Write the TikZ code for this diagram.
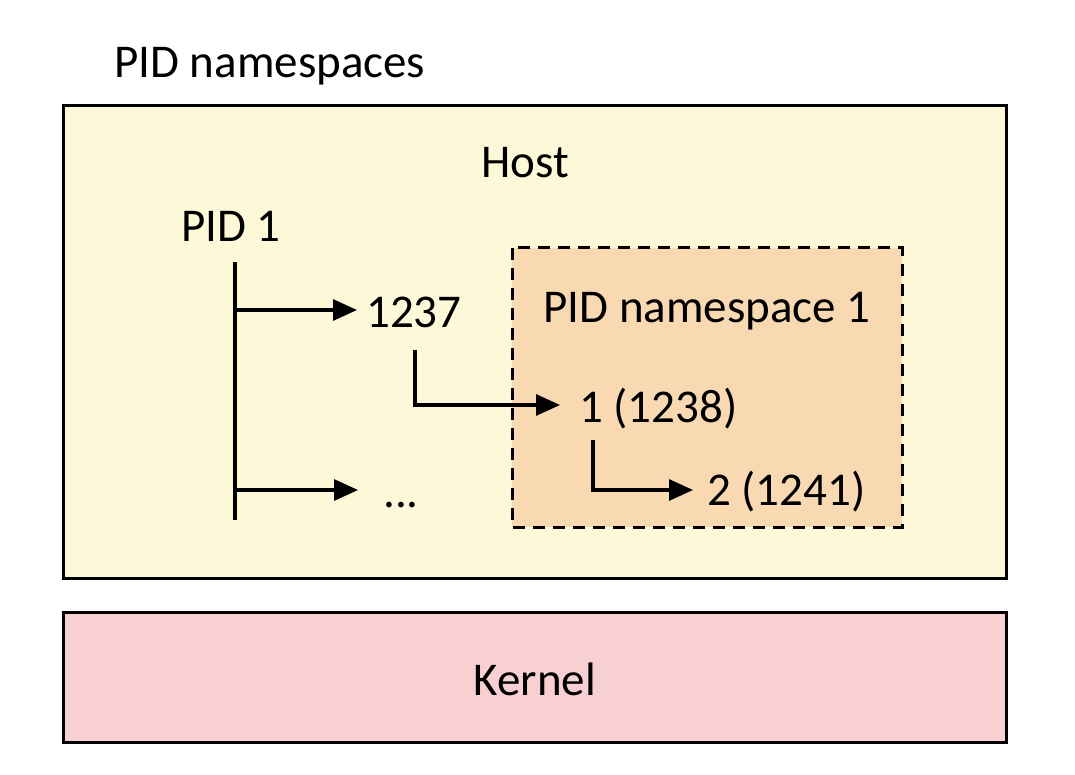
\documentclass[tikz,border=0pt]{standalone}
\usepackage{fontspec}
\setmainfont{Carlito}
\usetikzlibrary{arrows.meta}
\definecolor{hostfill}{HTML}{FCF8D8}
\definecolor{nsfill}{HTML}{F8D9B2}
\definecolor{kernfill}{HTML}{F9D0D2}
\begin{document}
\begin{tikzpicture}[x=1pt,y=-1pt,
  lbl/.style={font=\fontsize{47}{56}\selectfont, inner sep=0pt, text height=30pt, text depth=0pt},
  box/.style={draw=black, line width=3pt},
  conn/.style={line width=3.2pt, -{Triangle[length=24pt,width=21pt]}},
  plain/.style={line width=3.2pt}]
\useasboundingbox (0,0) rectangle (1075,775);
\fill[white] (0,0) rectangle (1075,775);
% boxes
\draw[box, fill=hostfill] (63,106) rectangle (1006,578);
\draw[box, fill=kernfill] (63,612) rectangle (1006,742);
\draw[box, fill=nsfill, dash pattern=on 12pt off 8pt] (512,248) rectangle (902,527);
% labels
\node[lbl, anchor=west] (title) at (114,63) {PID namespaces};
\node[lbl] (host) at (525,163) {Host};
\node[lbl] (kernel) at (535,680) {Kernel};
\node[lbl] (ns1) at (707,307) {PID namespace 1};
\node[lbl] (pid1) at (231,227) {PID 1};
\node[lbl, anchor=west] (p1237) at (366,312) {1237};
\node[lbl, anchor=west] (dots) at (383,492) {...};
\node[lbl, anchor=west] (p1238) at (579,407) {1 (1238)};
\node[lbl, anchor=west] (p1241) at (707,490) {2 (1241)};
% connectors
\coordinate (vtop) at (235,262);
\coordinate (vbot) at (235,520);
\coordinate (b1) at (235,310);
\coordinate (b2) at (235,490);
\coordinate (s1237) at (415,350);
\coordinate (s1238) at (593,440);
\draw[plain] (vtop) -- (vbot);
\draw[conn] (b1) -- ([xshift=-9pt]p1237.west |- b1);
\draw[conn] (b2) -- ([xshift=-25pt]dots.west |- b2);
\draw[conn] (s1237) |- ([xshift=-19pt]p1238.west |- 0,405);
\draw[conn] (s1238) |- ([xshift=-14pt]p1241.west |- 0,490);
\end{tikzpicture}
\end{document}
